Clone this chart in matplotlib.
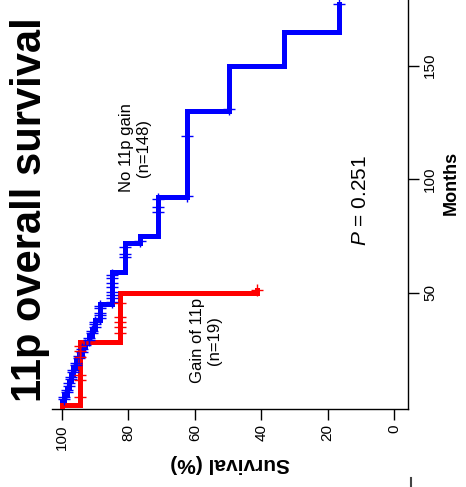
import numpy as np
import matplotlib
matplotlib.use("Agg")
import matplotlib.pyplot as plt
from matplotlib.lines import Line2D

plt.rcParams['font.family'] = ['Liberation Sans', 'DejaVu Sans']
plt.rcParams['mathtext.fontset'] = 'custom'
plt.rcParams['mathtext.rm'] = 'Liberation Sans'
plt.rcParams['mathtext.it'] = 'Liberation Sans:italic'

# Kaplan-Meier step curves: event times (months) and survival (%) after each step
no_gain_times = [0, 2, 5, 8, 11, 14, 17, 20, 23, 26, 28, 31, 34, 38, 45, 59, 72, 75, 92, 130, 150, 165]
no_gain_surv = [100, 99.3, 98.6, 98.0, 97.3, 96.6, 95.9, 95.0, 94.0, 93.0, 92.0, 91.0, 90.0, 88.6, 85.0, 81.0, 76.5, 71.0, 62.4, 49.7, 33.1, 16.6]
no_gain_end = 177
no_gain_censor = [3, 4, 6, 7, 9, 10, 12, 13, 15, 16, 18, 19, 21, 22, 24, 25, 27, 29, 30, 32,
                  33, 35, 36, 37, 39, 40, 41, 43, 44, 45.8, 47.6, 48.9, 50.2, 52.4, 54, 56.4,
                  57.7, 65.6, 67, 70, 72.5, 85.5, 87.7, 91, 92.5, 119, 131, 177]

gain_times = [0, 0.5, 28, 50]
gain_surv = [100, 94.7, 82.5, 41.2]
gain_end = 51
gain_censor = [4.0, 11.5, 13.7, 21.6, 24.2, 26.4, 32.2, 34.8, 37.0, 39.2, 45.4, 51]

surv_ticks = [100, 80, 60, 40, 20, 0]
month_ticks = [50, 100, 150]

fig = plt.figure(figsize=(4.66, 4.87), dpi=100)
ax = fig.add_axes([52 / 466, 1 - 409 / 487, (408 - 52) / 466, (409 + 10) / 487])
ax.set_xlim(103.0, -4.2)
ax.set_ylim(-1.3, 183.3)


def draw_km(times, surv, t_end, censor, color):
    t = list(times) + [t_end]
    s = list(surv) + [surv[-1]]
    ax.step(s, t, where='pre', color=color, lw=3.6, solid_joinstyle='miter', zorder=3)
    idx = np.searchsorted(times, censor, side='right') - 1
    cs = np.asarray(surv)[idx]
    ax.plot(cs, censor, ls='none', marker='+', ms=9, mew=1.0, color=color, zorder=4,
            clip_on=False)


draw_km(no_gain_times, no_gain_surv, no_gain_end, no_gain_censor, '#0000ff')
draw_km(gain_times, gain_surv, gain_end, gain_censor, '#ff0000')

for side in ('top', 'left'):
    ax.spines[side].set_visible(False)
for side in ('bottom', 'right'):
    ax.spines[side].set_linewidth(1.0)

ax.yaxis.tick_right()
ax.set_xticks(surv_ticks)
ax.set_xticklabels([str(v) for v in surv_ticks], rotation=90)
ax.set_yticks(month_ticks)
ax.set_yticklabels([str(v) for v in month_ticks], rotation=90, va='center')
ax.tick_params(axis='both', direction='out', length=8, width=1.0, labelsize=11, pad=3)

ax.text(78, 113.7, 'No 11p gain\n(n=148)', rotation=90, ha='center', va='center',
        fontsize=12, multialignment='center')
ax.text(56.6, 29, 'Gain of 11p\n(n=19)', rotation=90, ha='center', va='center',
        fontsize=12, multialignment='center')
ax.text(10, 90.7, '$P$ = 0.251', rotation=90, ha='center', va='center', fontsize=15)

fig.text(30 / 466, 1 - 210 / 487, '11p overall survival', rotation=90, ha='center',
         va='center', fontsize=30, fontweight='bold')
fig.text(230 / 466, 1 - 463 / 487, 'Survival (%)', rotation=180, ha='center',
         va='center', fontsize=15, fontweight='bold')
fig.text(451 / 466, 1 - 183 / 487, 'Months', rotation=90, ha='center',
         va='center', fontsize=13, fontweight='bold')

fig.add_artist(Line2D([411 / 466, 411 / 466], [1 - 478 / 487, 1 - 487 / 487],
                      transform=fig.transFigure, color='#444444', lw=1.5))

fig.savefig('out.png', dpi=100)
